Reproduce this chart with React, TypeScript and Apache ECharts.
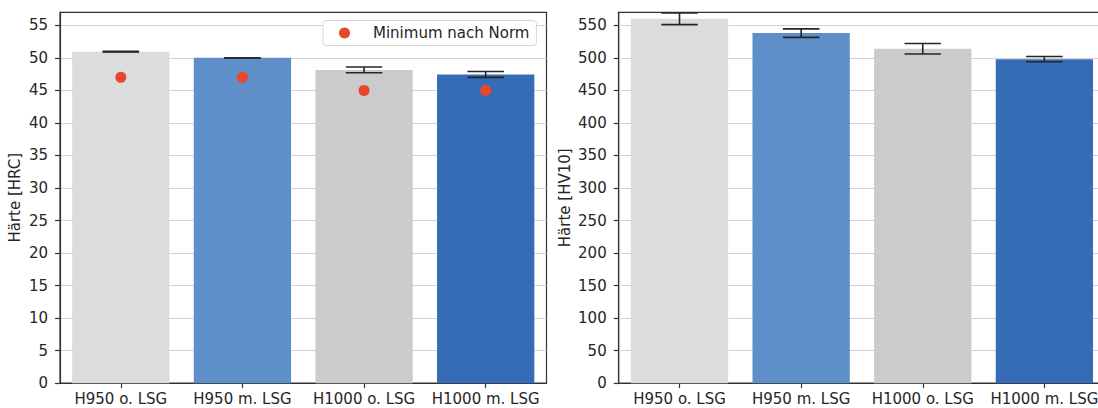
import React, { useEffect, useRef } from "react";
import * as echarts from "echarts";

const categories = ["H950 o. LSG", "H950 m. LSG", "H1000 o. LSG", "H1000 m. LSG"];
const barColors = ["#dcdcde", "#5e8fc8", "#cbcbcd", "#356cb5"];

const hrcMean = [50.95, 50.0, 48.15, 47.45];
const hrcErr = [0.05, 0.02, 0.45, 0.45];
const hrcMinimum = [47, 47, 45, 45];

const hvMean = [560, 538, 514, 498];
const hvErr = [9, 6.5, 8, 4];

const hrcTicks = [0, 5, 10, 15, 20, 25, 30, 35, 40, 45, 50, 55];
const hvTicks = [0, 50, 100, 150, 200, 250, 300, 350, 400, 450, 500, 550];

const FONT = "DejaVu Sans";
const TXT = "#262626";
const FRAME = "#333333";

function errData(mean: number[], err: number[]) {
  return mean.map((m, i) => [i, m - err[i], m + err[i]]);
}

function errRender(params: any, api: any) {
  const x = api.value(0);
  const lo = api.coord([x, api.value(1)]);
  const hi = api.coord([x, api.value(2)]);
  const half = api.size([1, 0])[0] * 0.15;
  const style = { stroke: "#262626", lineWidth: 1.6 };
  return {
    type: "group",
    children: [
      { type: "line", shape: { x1: lo[0], y1: lo[1], x2: hi[0], y2: hi[1] }, style },
      { type: "line", shape: { x1: lo[0] - half, y1: lo[1], x2: lo[0] + half, y2: lo[1] }, style },
      { type: "line", shape: { x1: hi[0] - half, y1: hi[1], x2: hi[0] + half, y2: hi[1] }, style },
    ],
  };
}

function makeX(gridIndex: number) {
  return {
    type: "category",
    gridIndex,
    data: categories,
    boundaryGap: true,
    axisLine: { show: true, lineStyle: { color: FRAME, width: 1.2 } },
    axisTick: { show: true, alignWithLabel: true, length: 5, lineStyle: { color: FRAME, width: 1.2 } },
    axisLabel: { color: TXT, fontFamily: FONT, fontSize: 15, margin: 8, interval: 0 },
    splitLine: { show: false },
  };
}

function makeY(gridIndex: number, max: number, interval: number, ticks: number[], name: string, nameGap: number) {
  return {
    type: "value",
    gridIndex,
    min: 0,
    max,
    interval,
    name,
    nameLocation: "middle",
    nameGap,
    nameTextStyle: { color: TXT, fontFamily: FONT, fontSize: 15 },
    axisLine: { show: true, lineStyle: { color: FRAME, width: 1.2 } },
    axisTick: { show: true, length: 5, lineStyle: { color: FRAME, width: 1.2 }, customValues: ticks },
    axisLabel: { color: TXT, fontFamily: FONT, fontSize: 15, margin: 12, customValues: ticks },
    splitLine: { show: true, lineStyle: { color: "#d2d2d2", width: 1 } },
  };
}

export default function App() {
  const ref = useRef<HTMLDivElement>(null);
  useEffect(() => {
    if (!ref.current) return;
    const chart = echarts.init(ref.current, null, { renderer: "svg" });
    chart.setOption({
      animation: false,
      backgroundColor: "#ffffff",
      textStyle: { fontFamily: FONT },
      grid: [
        { left: 60, top: 12.3, width: 486.5, height: 370.9, show: true, borderColor: FRAME, borderWidth: 1.2, backgroundColor: "transparent", outerBoundsMode: "none", containLabel: false },
        { left: 618.7, top: 12.3, width: 486.5, height: 370.9, show: true, borderColor: FRAME, borderWidth: 1.2, backgroundColor: "transparent", outerBoundsMode: "none", containLabel: false },
      ],
      legend: {
        data: [{ name: "Minimum nach Norm", icon: "circle" }],
        left: 323,
        top: 20.5,
        orient: "horizontal",
        itemWidth: 11,
        itemHeight: 11,
        padding: [5, 7, 5, 16],
        borderColor: "#d6d6d6",
        borderWidth: 1,
        borderRadius: 3,
        backgroundColor: "#ffffff",
        textStyle: { color: TXT, fontFamily: FONT, fontSize: 15, padding: [0, 0, 0, 18] },
      },
      xAxis: [makeX(0), makeX(1)],
      yAxis: [
        makeY(0, 57, 5, hrcTicks, "Härte [HRC]", 38),
        makeY(1, 570, 50, hvTicks, "Härte [HV10]", 46),
      ],
      series: [
        {
          type: "bar",
          xAxisIndex: 0,
          yAxisIndex: 0,
          barWidth: "80%",
          data: hrcMean.map((v, i) => ({ value: v, itemStyle: { color: barColors[i] } })),
          z: 2,
        },
        {
          type: "custom",
          xAxisIndex: 0,
          yAxisIndex: 0,
          data: errData(hrcMean, hrcErr),
          encode: { x: 0, y: [1, 2] },
          renderItem: errRender,
          z: 3,
        },
        {
          name: "Minimum nach Norm",
          type: "scatter",
          xAxisIndex: 0,
          yAxisIndex: 0,
          data: hrcMinimum,
          symbol: "circle",
          symbolSize: 11,
          itemStyle: { color: "#e9472a", opacity: 1 },
          z: 4,
        },
        {
          type: "bar",
          xAxisIndex: 1,
          yAxisIndex: 1,
          barWidth: "80%",
          data: hvMean.map((v, i) => ({ value: v, itemStyle: { color: barColors[i] } })),
          z: 2,
        },
        {
          type: "custom",
          xAxisIndex: 1,
          yAxisIndex: 1,
          data: errData(hvMean, hvErr),
          encode: { x: 0, y: [1, 2] },
          renderItem: errRender,
          z: 3,
        },
      ],
    });
    return () => chart.dispose();
  }, []);
  return (
    <div
      ref={ref}
      style={{ position: "fixed", left: 0, top: 0, width: 1098, height: 408, background: "#fff" }}
    />
  );
}
